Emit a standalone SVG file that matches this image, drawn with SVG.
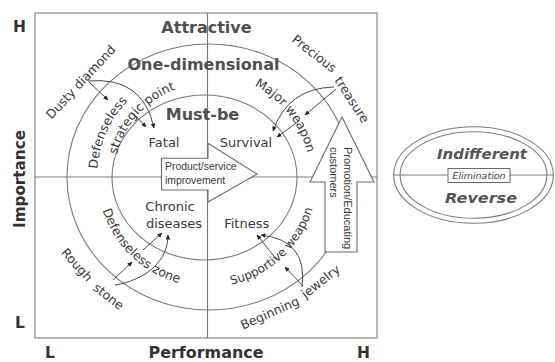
<svg xmlns="http://www.w3.org/2000/svg" width="555" height="362" viewBox="0 0 555 362">
<defs>
<style>
.ln{fill:none;stroke:#7a7a7a;stroke-width:1.1}
.cn{fill:none;stroke:#4a4a4a;stroke-width:1}
.blk{fill:#fff;stroke:#6a6a6a;stroke-width:1.1}
.big{font-family:"DejaVu Sans",sans-serif;font-weight:bold;font-size:16px;fill:#505050;text-anchor:middle}
.ax{font-family:"DejaVu Sans",sans-serif;font-weight:bold;font-size:15.5px;fill:#333}
.lb{font-family:"DejaVu Sans",sans-serif;font-size:12.5px;fill:#3a3a3a}
.mid{text-anchor:middle}
.in{font-family:"DejaVu Sans",sans-serif;font-size:13px;fill:#3a3a3a;text-anchor:middle}
.sm{font-family:"Liberation Sans",Arial,sans-serif;font-size:10.4px;fill:#3a3a3a}
.pr{font-family:"Liberation Sans",Arial,sans-serif;font-size:11px;fill:#3a3a3a}
.el{font-family:"DejaVu Sans",sans-serif;font-weight:bold;font-style:italic;font-size:14.5px;fill:#555;text-anchor:middle}
.eli{font-family:"DejaVu Sans",sans-serif;font-style:italic;font-size:9.5px;fill:#444;text-anchor:middle}
</style>
<marker id="ah" markerUnits="userSpaceOnUse" markerWidth="5" markerHeight="5" refX="4.5" refY="2.5" orient="auto">
<path d="M0,0.3 L5,2.5 L0,4.7 z" fill="#222"/>
</marker>
<path id="p-dl" d="M101.3,207.3 A110,110 0 0,1 158.8,78.1"/>
<path id="p-sp" d="M114.1,173.8 A93,93 0 0,1 194.1,84.9"/>
<path id="p-mw" d="M228.4,76.3 A103,103 0 0,1 309.9,180.6"/>
<path id="p-dz" d="M97.5,179.7 A109.5,109.5 0 0,0 209.7,286.5"/>
<path id="p-sw" d="M203.1,287.3 A110.4,110.4 0 0,0 317.3,180.9"/>
</defs>
<rect x="0" y="0" width="555" height="362" fill="#fff"/>

<g id="grid">
<rect class="ln" x="35" y="13" width="342" height="325"/>
<line class="ln" x1="207.5" y1="13" x2="207.5" y2="338"/>
<line class="ln" x1="35" y1="177" x2="377" y2="177"/>
<ellipse class="ln" cx="209" cy="177" rx="142" ry="133"/>
<ellipse class="ln" cx="204.5" cy="177.5" rx="92.5" ry="82.5"/>
</g>

<g id="connectors">
<path class="cn" d="M88,81 Q143,76 154,128" marker-end="url(#ah)"/>
<path class="cn" d="M89,82 L108,100" marker-end="url(#ah)"/>
<path class="cn" d="M133,113 L146,127" marker-end="url(#ah)"/>
<path class="cn" d="M334,87 Q288,88 273,131" marker-end="url(#ah)"/>
<path class="cn" d="M336,89 L305,115" marker-end="url(#ah)"/>
<path class="cn" d="M299,121 L277,137" marker-end="url(#ah)"/>
<path class="cn" d="M115,285 C145,280 168,262 168,235" marker-end="url(#ah)"/>
<path class="cn" d="M113,280 L132,262" marker-end="url(#ah)"/>
<path class="cn" d="M143,250 L162,233" marker-end="url(#ah)"/>
<path class="cn" d="M302,287 Q308,240 261,235" marker-end="url(#ah)"/>
<path class="cn" d="M303,286 L285,267" marker-end="url(#ah)"/>
<path class="cn" d="M277,260 L257,235" marker-end="url(#ah)"/>
</g>

<g id="product-arrow">
<polygon class="blk" points="161.5,158.3 208,158.3 208,143.3 257,174 208,202 208,190 161.5,190"/>
<text class="sm" x="165" y="170">Product/service</text>
<text class="sm" x="165" y="184">improvement</text>
</g>

<g id="promotion-arrow">
<polygon class="blk" points="342,117 374,182 357,182 357,252 325,252 325,182 310,182"/>
<text class="pr" transform="translate(344,147) rotate(90)">Promotion/Educating</text>
<text class="pr" transform="translate(330,147) rotate(90)">customers</text>
</g>

<g id="axes">
<text class="ax" x="13" y="32">H</text>
<text class="ax" x="15" y="328">L</text>
<text class="ax" x="45" y="357.5">L</text>
<text class="ax" x="357" y="357.5">H</text>
<text class="ax mid" transform="translate(25,179) rotate(-90)" textLength="98" lengthAdjust="spacingAndGlyphs">Importance</text>
<text class="ax mid" x="206" y="357.5" textLength="115" lengthAdjust="spacingAndGlyphs">Performance</text>
</g>

<g id="attractive"><text class="big" x="206.5" y="33">Attractive</text></g>
<g id="one-dimensional"><text class="big" x="203.5" y="70">One-dimensional</text></g>
<g id="must-be"><text class="big" x="202.5" y="120">Must-be</text></g>

<g id="fatal"><text class="in" x="164" y="147">Fatal</text></g>
<g id="survival"><text class="in" x="246" y="147">Survival</text></g>
<g id="chronic-diseases"><text class="in" x="170" y="211">Chronic</text><text class="in" x="174" y="228">diseases</text></g>
<g id="fitness"><text class="in" x="246.7" y="228">Fitness</text></g>

<g id="dusty-diamond"><text class="lb mid" transform="translate(84,85) rotate(-47)">Dusty diamond</text></g>
<g id="defenseless-strategic-point">
<text class="lb"><textPath href="#p-dl" startOffset="50%" text-anchor="middle">Defenseless</textPath></text>
<text class="lb"><textPath href="#p-sp" startOffset="50%" text-anchor="middle">strategic point</textPath></text>
</g>
<g id="precious-treasure">
<text class="lb mid" transform="translate(311.5,57) rotate(38)">Precious</text>
<text class="lb mid" transform="translate(348.3,102.2) rotate(57)">treasure</text>
</g>
<g id="major-weapon"><text class="lb"><textPath href="#p-mw" startOffset="50%" text-anchor="middle">Major weapon</textPath></text></g>
<g id="rough-stone">
<text class="lb mid" transform="translate(73.7,267.7) rotate(48)">Rough</text>
<text class="lb mid" transform="translate(105.9,299.9) rotate(38)">stone</text>
</g>
<g id="defenseless-zone"><text class="lb"><textPath href="#p-dz" startOffset="50%" text-anchor="middle">Defenseless zone</textPath></text></g>
<g id="supportive-weapon"><text class="lb" style="font-size:12px"><textPath href="#p-sw" startOffset="50%" text-anchor="middle">Supportive weapon</textPath></text></g>
<g id="beginning-jewelry">
<text class="lb mid" transform="translate(271.6,317) rotate(-24)">Beginning</text>
<text class="lb mid" transform="translate(323.2,284.9) rotate(-38)">jewelry</text>
</g>

<g id="indifferent-reverse">
<ellipse class="ln" cx="473.5" cy="175" rx="79.8" ry="48.3"/>
<ellipse class="ln" cx="473.5" cy="175" rx="73.4" ry="43.3"/>
<line class="ln" x1="393.7" y1="175" x2="553.3" y2="175"/>
<rect x="448" y="168.5" width="62" height="14" fill="#fff" stroke="#6a6a6a" stroke-width="1"/>
<text class="eli" x="479" y="179">Elimination</text>
<text class="el" x="482" y="159" textLength="90" lengthAdjust="spacingAndGlyphs">Indifferent</text>
<text class="el" x="481" y="203" textLength="72" lengthAdjust="spacingAndGlyphs">Reverse</text>
</g>
</svg>
